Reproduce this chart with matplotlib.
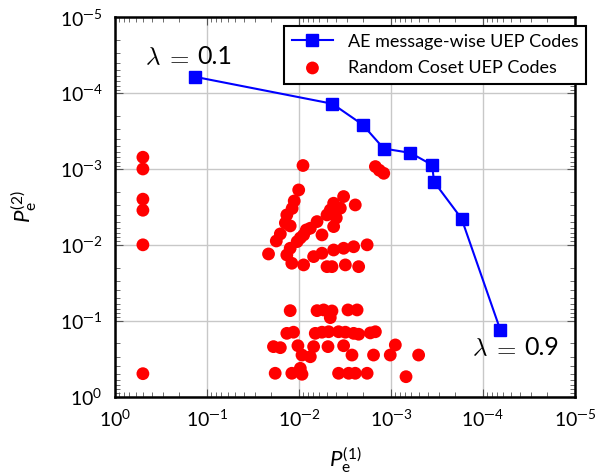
import matplotlib
matplotlib.use("Agg")
import math
import matplotlib.pyplot as plt
from matplotlib.ticker import LogLocator, NullFormatter, FuncFormatter

plt.rcParams['font.family'] = ['Lato', 'DejaVu Sans']
plt.rcParams['mathtext.fontset'] = 'custom'
plt.rcParams['mathtext.rm'] = 'Lato'
plt.rcParams['mathtext.it'] = 'Lato:italic'
plt.rcParams['mathtext.bf'] = 'Lato:bold'

# AE message-wise UEP codes (lambda 0.1 -> 0.9)
ae_pe1 = [1.35e-1, 4.35e-3, 2.04e-3, 1.20e-3, 6.17e-4, 3.58e-4, 3.40e-4, 1.71e-4, 6.47e-5]
ae_pe2 = [6.1e-5, 1.38e-4, 2.60e-4, 5.38e-4, 6.13e-4, 8.83e-4, 1.48e-3, 4.51e-3, 1.33e-1]

# Random coset UEP codes
rc_pe1 = [0.5, 0.5, 0.5, 0.5, 0.5, 0.5,
          9.07e-3, 1.48e-3, 1.34e-3, 1.20e-3, 1.01e-2, 1.13e-2, 1.19e-2, 1.36e-2,
          1.41e-2, 1.25e-2, 1.60e-2, 1.77e-2, 2.15e-2, 3.28e-3, 4.21e-3, 2.45e-3,
          3.56e-3, 4.97e-3, 6.38e-3, 7.55e-3, 4.21e-3, 5.64e-3, 8.93e-3, 1.05e-2,
          1.25e-2, 1.36e-2, 1.20e-2, 8.93e-3, 6.95e-3, 5.64e-3, 4.21e-3, 3.28e-3,
          2.55e-3, 1.82e-3, 4.97e-3, 4.39e-3, 3.14e-3, 2.25e-3, 4.58e-3, 3.94e-3,
          9.70e-3, 8.35e-3,
          1.25e-2, 6.38e-3, 5.41e-3, 4.39e-3, 4.58e-3, 2.94e-3, 2.34e-3,
          1.36e-2, 1.15e-2, 6.67e-3, 5.64e-3, 4.77e-3, 3.72e-3, 3.14e-3, 2.55e-3,
          2.25e-3, 1.48e-3, 1.68e-3,
          1.90e-2, 1.60e-2, 1.03e-2, 6.95e-3, 4.85e-3, 3.28e-3, 8.98e-4,
          9.30e-3, 7.55e-3, 2.66e-3, 1.55e-3, 1.02e-3, 5.01e-4,
          1.82e-2, 1.20e-2, 9.70e-3, 9.30e-3, 3.72e-3, 2.89e-3, 2.45e-3, 1.82e-3, 6.87e-4]
rc_pe2 = [7.0e-4, 1.0e-3, 2.5e-3, 3.5e-3, 1.0e-2, 0.5,
          9.0e-4, 9.3e-4, 1.04e-3, 1.14e-3, 1.89e-3, 2.64e-3, 3.31e-3, 4.03e-3,
          5.14e-3, 5.63e-3, 7.18e-3, 8.89e-3, 1.32e-2, 2.31e-3, 2.83e-3, 2.98e-3,
          3.29e-3, 4.03e-3, 4.94e-3, 6.04e-3, 5.75e-3, 7.40e-3, 7.40e-3, 9.07e-3,
          1.11e-2, 1.36e-2, 1.75e-2, 1.84e-2, 1.43e-2, 1.29e-2, 1.17e-2, 1.11e-2,
          1.06e-2, 1.00e-2, 1.94e-2, 1.94e-2, 1.84e-2, 1.94e-2, 3.47e-3, 4.42e-3,
          8.11e-3, 6.36e-3,
          7.38e-2, 7.38e-2, 7.22e-2, 7.45e-2, 9.12e-2, 7.22e-2, 7.22e-2,
          0.147, 0.142, 0.147, 0.142, 0.140, 0.140, 0.142, 0.147,
          0.151, 0.140, 0.145,
          0.220, 0.227, 0.214, 0.220, 0.220, 0.214, 0.209,
          0.284, 0.299, 0.284, 0.284, 0.284, 0.284,
          0.494, 0.494, 0.425, 0.509, 0.494, 0.494, 0.494, 0.494, 0.548]

fig = plt.figure(figsize=(5.97, 4.74), dpi=100)
ax = fig.add_axes([0.193, 0.1635, 0.770, 0.800])

ax.plot(ae_pe1, ae_pe2, color='#0000ff', lw=1.5, marker='s', ms=8.5,
        label='AE message-wise UEP Codes', zorder=4)
ax.scatter(rc_pe1, rc_pe2, s=85, color='#ff0000', edgecolors='none',
           label='Random Coset UEP Codes', zorder=3)

ax.set_xscale('log')
ax.set_yscale('log')
ax.set_xlim(1, 1e-5)
ax.set_ylim(1, 1e-5)


def dec_fmt(v, pos):
    e = int(round(math.log10(v)))
    s = ('\u2014%d' % -e) if e < 0 else '%d' % e
    return r'$\mathregular{10^{%s}}$' % s


for axis in (ax.xaxis, ax.yaxis):
    axis.set_major_locator(LogLocator(base=10, numticks=10))
    axis.set_minor_locator(LogLocator(base=10, subs=range(2, 10), numticks=20))
    axis.set_major_formatter(FuncFormatter(dec_fmt))
    axis.set_minor_formatter(NullFormatter())

ax.grid(True, which='major', color='#c8c8c8', lw=1.0, zorder=0)
ax.set_axisbelow(True)
ax.tick_params(which='both', direction='in', top=True, right=True, colors='#555555',
               labelcolor='black', labelsize=14)
ax.tick_params(which='major', length=6, width=0.8)
ax.tick_params(which='minor', length=3.5, width=0.6)
ax.tick_params(axis='x', which='major', pad=9)
ax.tick_params(axis='y', which='major', pad=9)
for s in ax.spines.values():
    s.set_linewidth(1.8)
    s.set_color('black')

ax.set_xlabel(r'$P_{\mathrm{e}}^{(1)}$', fontsize=16)
ax.set_ylabel(r'$P_{\mathrm{e}}^{(2)}$', fontsize=16)
ax.xaxis.set_label_coords(0.5, -0.128)
ax.yaxis.set_label_coords(-0.166, 0.5)


def lam_label(x0, y0, val):
    kw = dict(xy=(x0, y0), xycoords='axes fraction', textcoords='offset pixels',
              ha='left', va='baseline', fontsize=18)
    ax.annotate(r'$\lambda$', xytext=(0, 0), math_fontfamily='cm', **kw)
    ax.annotate(r'$=$', xytext=(20, 0), math_fontfamily='cm', **kw)
    ax.annotate(val, xytext=(52, 0), **kw)


lam_label(0.0653, 0.877, '0.1')
lam_label(0.777, 0.1095, '0.9')

leg = ax.legend(loc='upper right', bbox_to_anchor=(1.025, 0.978), borderaxespad=0,
                fontsize=13, fancybox=False, framealpha=1, edgecolor='black',
                handlelength=2.3, borderpad=0.45, labelspacing=0.55)
leg.get_frame().set_linewidth(1.5)

fig.savefig('out.png', dpi=100)
